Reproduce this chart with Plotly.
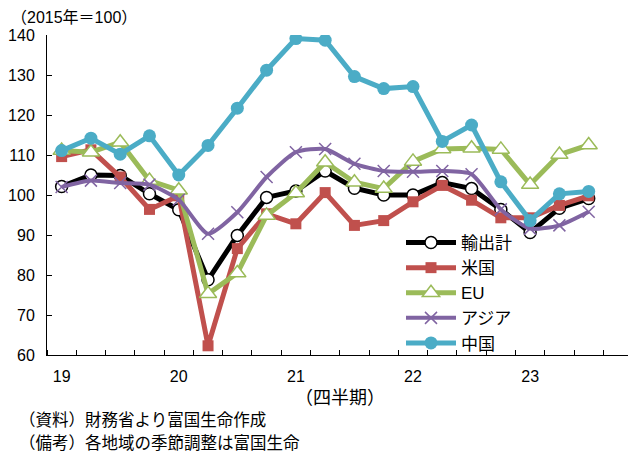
import plotly.graph_objects as go

quarters = ["19Q1","19Q2","19Q3","19Q4","20Q1","20Q2","20Q3","20Q4",
            "21Q1","21Q2","21Q3","21Q4","22Q1","22Q2","22Q3","22Q4",
            "23Q1","23Q2","23Q3"]
tick_labels = ["19", "20", "21", "22", "23"]

total = [102.1, 105.0, 104.9, 100.3, 96.3, 78.8, 89.9, 99.4, 101.0, 106.0,
         101.7, 100.0, 100.0, 103.1, 101.6, 96.4, 90.6, 96.7, 99.1]
usa = [109.6, 111.3, 104.5, 96.4, 99.8, 62.3, 86.6, 95.3, 92.8, 100.6,
       92.4, 93.6, 98.3, 102.4, 98.7, 94.3, 94.3, 97.4, 99.8]
eu = [111.1, 110.7, 113.2, 103.6, 101.2, 75.3, 80.5, 94.9, 100.5, 108.2,
      103.2, 101.6, 108.4, 111.5, 111.7, 111.4, 102.6, 110.1, 112.5]
asia = [102.0, 103.6, 103.0, 102.6, 98.8, 90.3, 95.7, 104.5, 110.7, 111.5,
        107.8, 106.0, 105.8, 106.0, 105.2, 96.4, 91.6, 92.4, 95.8]
china = [111.1, 114.2, 110.2, 114.8, 105.0, 112.4, 121.7, 131.2, 139.1, 138.7,
         129.6, 126.6, 127.1, 113.4, 117.5, 103.3, 93.6, 100.3, 100.9]

W, H = 628, 455
ML, MR, MT, MB = 47, 0, 35, 100
PW, PH = W - ML - MR, H - MT - MB

def px(x):
    return (x - ML) / PW

def py(y):
    return (H - MB - y) / PH

xs = list(range(len(quarters)))
JP = "Liberation Sans, Noto Sans CJK JP, sans-serif"

fig = go.Figure()
fig.add_trace(go.Scatter(
    x=xs, y=total, name="輸出計", mode="lines+markers", legendgroup="a",
    line=dict(color="#000000", width=5),
    marker=dict(symbol="circle", size=12, color="#FFFFFF",
                line=dict(color="#000000", width=1.5))))
fig.add_trace(go.Scatter(
    x=xs, y=usa, name="米国", mode="lines+markers", legendgroup="b",
    line=dict(color="#C0504D", width=5),
    marker=dict(symbol="square", size=11, color="#C0504D")))
fig.add_trace(go.Scatter(
    x=xs, y=eu, name="EU", mode="lines+markers", legendgroup="c",
    line=dict(color="#9BBB59", width=5),
    marker=dict(symbol="triangle-up", size=15, color="#FFFFFF",
                line=dict(color="#9BBB59", width=1.5))))
fig.add_trace(go.Scatter(
    x=xs, y=asia, name="アジア", mode="lines+markers", legendgroup="d",
    line=dict(color="#8064A2", width=4, shape="spline", smoothing=0.6),
    marker=dict(symbol="x-thin", size=12, color="#8064A2",
                line=dict(color="#8064A2", width=1.5))))
fig.add_trace(go.Scatter(
    x=xs, y=china, name="中国", mode="lines+markers", legendgroup="e",
    line=dict(color="#4BACC6", width=5),
    marker=dict(symbol="circle", size=13, color="#4BACC6")))

fig.update_layout(
    width=W, height=H,
    margin=dict(l=ML, r=MR, t=MT, b=MB, pad=0),
    plot_bgcolor="white", paper_bgcolor="white",
    font=dict(family=JP, size=15, color="#000000"),
    showlegend=True,
    legend=dict(x=px(401), y=py(225), xanchor="left", yanchor="top",
                bgcolor="rgba(0,0,0,0)", itemwidth=50,
                tracegroupgap=1, font=dict(size=17, family=JP),
                traceorder="normal"),
    xaxis=dict(range=[-0.5, -0.5 + PW / 29.28], showgrid=False, zeroline=False,
               showline=True, linecolor="#000000", linewidth=1,
               tickmode="array", tickvals=[0, 4, 8, 12, 16], ticktext=tick_labels,
               ticks="", ticklabelstandoff=7,
               tickfont=dict(size=16),
               minor=dict(tickmode="linear", tick0=-0.5, dtick=1,
                          ticks="inside", ticklen=5, tickcolor="#000000",
                          tickwidth=1, showgrid=False)),
    yaxis=dict(range=[60, 140], showgrid=False, zeroline=False,
               showline=True, linecolor="#000000", linewidth=1,
               tickmode="linear", tick0=60, dtick=10,
               ticks="inside", ticklen=5, tickcolor="#000000",
               ticklabelstandoff=8, tickfont=dict(size=16)),
)

annos = [
    ("（2015年＝100）", 9, 18, "left", 16),
    ("（四半期）", 340, 398, "center", 18),
    ("（資料）財務省より富国生命作成", 17, 420, "left", 16.5),
    ("（備考）各地域の季節調整は富国生命", 17, 443, "left", 16.5),
]
for txt, x, y, anc, fs in annos:
    fig.add_annotation(text=txt, x=px(x), y=py(y), xref="paper", yref="paper",
                       xanchor=anc, yanchor="middle", showarrow=False,
                       font=dict(size=fs, family=JP))

fig.write_html("out.html", config={"displayModeBar": False},
               post_script="document.body.style.margin='0';document.body.style.overflow='hidden';")
